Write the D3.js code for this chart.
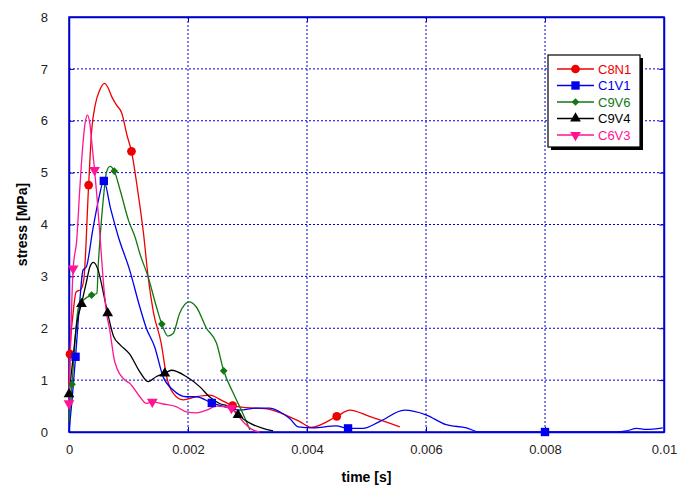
<!DOCTYPE html>
<html>
<head>
<meta charset="utf-8">
<script src="https://cdn.jsdelivr.net/npm/d3@7"></script>
<style>
  body { margin: 0; background: #fff; }
  svg text { font-family: "Liberation Sans", Arial, sans-serif; }
</style>
</head>
<body>
<script>
// time in ms, stress in MPa
var seriesNames = ["C8N1", "C1V1", "C9V6", "C9V4", "C6V3"];
var seriesColors = ["#ee0000", "#0000ee", "#117711", "#000000", "#ff1493"];
var markerTypes = ["circle", "square", "diamond", "triangle", "triangleDown"];

var c8n1 = [[0,0.9],[0.017,1.5],[0.07,2.3],[0.12,2.7],[0.2,2.75],[0.25,2.95],[0.33,4.76],[0.38,5.8],[0.44,6.3],[0.52,6.6],[0.595,6.72],[0.65,6.65],[0.72,6.46],[0.8,6.3],[0.886,6.15],[0.975,5.72],[1.05,5.41],[1.17,4.53],[1.25,3.85],[1.33,2.99],[1.42,2.3],[1.55,1.71],[1.64,1.07],[1.75,0.75],[1.92,0.62],[2.14,0.68],[2.37,0.71],[2.55,0.62],[2.75,0.51],[2.9,0.48],[3.15,0.46],[3.35,0.44],[3.57,0.36],[3.88,0.2],[4.07,0.09],[4.5,0.30],[4.72,0.42],[5.05,0.30],[5.56,0.10]];
var c1v1 = [[0,0],[0.05,0.6],[0.11,1.45],[0.18,2.5],[0.235,3.12],[0.29,3.18],[0.4,3.9],[0.5,4.5],[0.585,4.84],[0.7,4.3],[0.83,3.76],[1.02,3.12],[1.19,2.41],[1.3,2.0],[1.44,1.64],[1.58,1.07],[1.75,0.81],[1.97,0.68],[2.14,0.68],[2.40,0.56],[2.7,0.46],[2.87,0.42],[3.15,0.46],[3.37,0.46],[3.54,0.39],[3.71,0.26],[3.85,0.1],[4.1,0.08],[4.49,0.12],[4.69,0.07],[4.94,0.07],[5.22,0.2],[5.64,0.42],[6.0,0.33],[6.34,0.14],[6.68,0.08],[6.9,0.0],[8.0,0.0],[9.2,0.0],[9.37,0.02],[9.54,0.07],[9.7,0.05],[9.98,0.08]];
var c9v6 = [[0,0.2],[0.05,0.92],[0.16,2.41],[0.25,2.55],[0.38,2.64],[0.47,2.67],[0.49,3.18],[0.52,3.7],[0.58,4.53],[0.63,5.01],[0.69,5.12],[0.76,5.03],[0.86,4.66],[1.0,4.08],[1.11,3.76],[1.19,3.44],[1.33,2.99],[1.47,2.41],[1.56,2.08],[1.66,1.85],[1.75,1.9],[1.86,2.29],[2.02,2.51],[2.14,2.41],[2.31,2.0],[2.48,1.71],[2.6,1.18],[2.76,0.75],[2.92,0.36],[3.04,0.04]];
var c9v4 = [[0,0.73],[0.07,1.45],[0.13,2.09],[0.21,2.47],[0.3,2.93],[0.35,3.18],[0.41,3.27],[0.49,3.12],[0.58,2.67],[0.65,2.29],[0.75,1.84],[0.86,1.68],[1.02,1.5],[1.19,1.16],[1.33,0.97],[1.47,1.07],[1.61,1.13],[1.72,1.19],[1.97,1.07],[2.2,0.87],[2.36,0.68],[2.53,0.55],[2.7,0.49],[2.84,0.33],[3.04,0.17],[3.26,0.07],[3.43,0.02]];
var c6v3 = [[0,0.55],[0.07,3.15],[0.13,3.7],[0.18,4.66],[0.23,5.5],[0.27,5.95],[0.31,6.11],[0.35,5.95],[0.39,5.5],[0.43,5.05],[0.47,4.53],[0.52,3.8],[0.57,3.0],[0.63,2.3],[0.68,2.0],[0.77,1.35],[0.94,1.0],[1.02,0.94],[1.19,0.68],[1.3,0.55],[1.4,0.58],[1.58,0.54],[1.8,0.49],[1.97,0.39],[2.14,0.37],[2.31,0.42],[2.48,0.5],[2.73,0.46],[2.81,0.36],[2.95,0.17],[3.09,0.04],[3.2,0.0]];

// points that carry a marker
var c8n1Marks = [[0.017,1.5],[0.33,4.76],[1.05,5.41],[2.75,0.51],[4.5,0.30]];
var c1v1Marks = [[0.11,1.45],[0.585,4.84],[2.40,0.56],[4.69,0.07],[8.0,0.0]];
var c9v6Marks = [[0.05,0.92],[0.38,2.64],[0.76,5.03],[1.56,2.08],[2.6,1.18]];
var c9v4Marks = [[0,0.73],[0.21,2.47],[0.65,2.29],[1.61,1.13],[2.84,0.33]];
var c6v3Marks = [[0,0.55],[0.07,3.15],[0.43,5.05],[1.40,0.58],[2.73,0.46]];

var xTicks = [0, 2, 4, 6, 8, 10];
var yTicks = [0, 1, 2, 3, 4, 5, 6, 7, 8];

var allData = [c8n1, c1v1, c9v6, c9v4, c6v3];
var allMarks = [c8n1Marks, c1v1Marks, c9v6Marks, c9v4Marks, c6v3Marks];

var margin = {top: 17, right: 25, bottom: 57, left: 69},
    width = 689 - margin.left - margin.right,
    height = 489 - margin.top - margin.bottom;

var axisColor = "#0000cc";

var svg = d3.select("body").append("svg")
    .attr("width", 689)
    .attr("height", 489)
  .append("g")
    .attr("transform", "translate(" + margin.left + "," + margin.top + ")");

var x = d3.scaleLinear().domain([0, 10]).range([0, width]);
var y = d3.scaleLinear().domain([0, 8]).range([height, 0]);

// grid
svg.append("g").selectAll("line.gx")
    .data(xTicks.slice(1, -1))
  .enter().append("line")
    .attr("x1", d => x(d)).attr("x2", d => x(d))
    .attr("y1", 0).attr("y2", height)
    .attr("stroke", axisColor).attr("stroke-width", 1)
    .attr("stroke-dasharray", "2,2");
svg.append("g").selectAll("line.gy")
    .data(yTicks.slice(1, -1))
  .enter().append("line")
    .attr("x1", 0).attr("x2", width)
    .attr("y1", d => y(d)).attr("y2", d => y(d))
    .attr("stroke", axisColor).attr("stroke-width", 1)
    .attr("stroke-dasharray", "2,2");

// axes with inward ticks
var xAxis = d3.axisBottom(x).tickValues(xTicks).tickSizeInner(-5).tickSizeOuter(0)
    .tickPadding(13)
    .tickFormat(d => +(d / 1000).toFixed(3));
var yAxis = d3.axisLeft(y).tickValues(yTicks).tickSizeInner(-5).tickSizeOuter(0)
    .tickPadding(21);

svg.append("g")
    .attr("transform", "translate(0," + height + ")")
    .call(xAxis);
svg.append("g").call(yAxis);
svg.append("g")
    .attr("transform", "translate(" + width + ",0)")
    .call(d3.axisRight(y).tickValues(yTicks).tickSizeInner(-5).tickSizeOuter(0).tickFormat(""));
svg.append("g")
    .call(d3.axisTop(x).tickValues(xTicks).tickSizeInner(-5).tickSizeOuter(0).tickFormat(""));

svg.selectAll(".domain").attr("stroke", axisColor).attr("stroke-width", 1.5);
svg.selectAll(".tick line").attr("stroke", axisColor);
svg.selectAll(".tick text").attr("font-size", 13).attr("fill", "#222")
    .style("font-family", "'Liberation Sans', Arial, sans-serif");

// frame
svg.append("rect")
    .attr("width", width).attr("height", height)
    .attr("fill", "none").attr("stroke", axisColor).attr("stroke-width", 1.5);

// lines
var line = d3.line()
    .x(d => x(d[0]))
    .y(d => y(d[1]))
    .curve(d3.curveMonotoneX);

svg.append("g").selectAll("path.series")
    .data(allData)
  .enter().append("path")
    .attr("d", line)
    .attr("fill", "none")
    .attr("stroke", (d, i) => seriesColors[i])
    .attr("stroke-width", 1.3);

var symbolFor = {
  circle: d3.symbol().type(d3.symbolCircle).size(60),
  square: d3.symbol().type(d3.symbolSquare).size(70),
  diamond: d3.symbol().type(d3.symbolSquare).size(30),
  triangle: d3.symbol().type(d3.symbolTriangle).size(50),
  triangleDown: d3.symbol().type(d3.symbolTriangle).size(50)
};

function drawMarker(g, type, color) {
  var rot = null;
  if (type === "triangleDown") rot = "rotate(180)";
  if (type === "diamond") rot = "rotate(45)";
  g.append("path")
    .attr("d", symbolFor[type]())
    .attr("fill", color)
    .attr("transform", rot);
}

allMarks.forEach(function(marks, i) {
  marks.forEach(function(p) {
    var g = svg.append("g")
        .attr("transform", "translate(" + x(p[0]) + "," + y(p[1]) + ")");
    drawMarker(g, markerTypes[i], seriesColors[i]);
  });
});

// axis titles
svg.append("text")
    .attr("x", width / 2)
    .attr("y", height + 50)
    .attr("text-anchor", "middle")
    .attr("font-size", 14)
    .attr("font-weight", "bold")
    .text("time [s]");

svg.append("text")
    .attr("transform", "translate(" + (-42) + "," + (height / 2) + ") rotate(-90)")
    .attr("text-anchor", "middle")
    .attr("font-size", 14)
    .attr("font-weight", "bold")
    .text("stress [MPa]");

// legend
var lg = svg.append("g").attr("transform", "translate(" + (548 - margin.left) + "," + (55 - margin.top) + ")");
lg.append("rect").attr("x", 3).attr("y", 3).attr("width", 92).attr("height", 92).attr("fill", "#000");
lg.append("rect").attr("width", 92).attr("height", 92).attr("fill", "#fff")
    .attr("stroke", "#000").attr("stroke-width", 1.2);

seriesNames.forEach(function(name, i) {
  var yy = 14 + i * 16.5;
  lg.append("line")
      .attr("x1", 9).attr("x2", 46)
      .attr("y1", yy).attr("y2", yy)
      .attr("stroke", seriesColors[i]).attr("stroke-width", 1.3);
  var g = lg.append("g").attr("transform", "translate(27.5," + yy + ")");
  drawMarker(g, markerTypes[i], seriesColors[i]);
  lg.append("text")
      .attr("x", 50).attr("y", yy + 4.5)
      .attr("font-size", 13)
      .attr("fill", seriesColors[i])
      .text(name);
});
</script>
</body>
</html>
